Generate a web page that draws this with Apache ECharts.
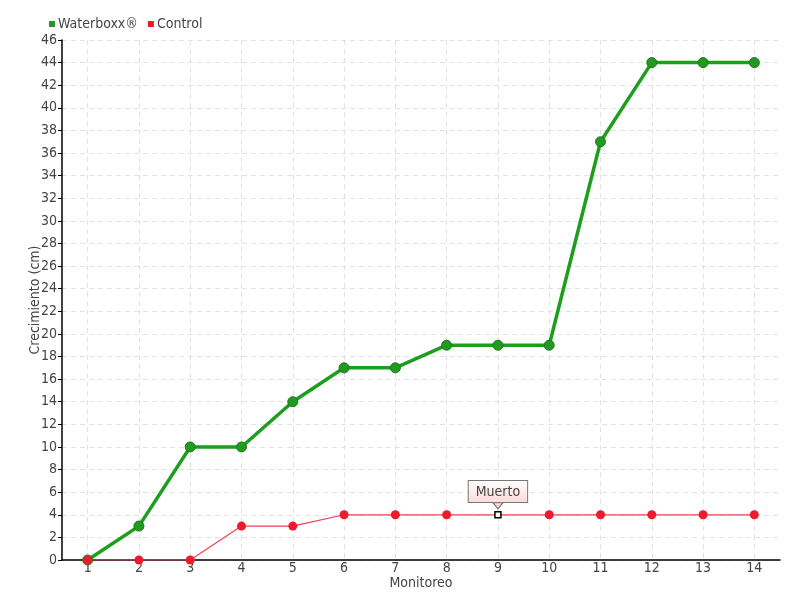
<!DOCTYPE html>
<html><head><meta charset="utf-8">
<script src="https://cdn.jsdelivr.net/npm/echarts@6/dist/echarts.min.js"></script>
<style>html,body{margin:0;padding:0;background:#fff}#c{width:800px;height:600px}</style>
</head><body><div id="c"></div>
<script>
const categories = ['1','2','3','4','5','6','7','8','9','10','11','12','13','14'];
const waterboxx = [0,3,10,10,14,17,17,19,19,19,37,44,44,44];
const control = [0,0,0,3,3,4,4,4,4,4,4,4,4,4];
const deadIndex = 8;
const deadLabel = 'Muerto';
const yTicks = {min:0, max:46, interval:2};

const FONT = "'DejaVu Sans Condensed', 'Roboto', 'Liberation Sans', sans-serif";
const halfCats = [];
for (let i = 0; i < categories.length * 2 + 1; i++) halfCats.push(String(i));

const chart = echarts.init(document.getElementById('c'));
const controlData = control.map((v, i) => {
  if (i === deadIndex) {
    return {
      value: v, symbol: 'rect', symbolSize: 6,
      itemStyle: {color: '#fff', borderColor: '#000', borderWidth: 1.5},
      label: {
        show: true, position: 'top', distance: 9, formatter: deadLabel,
        fontFamily: FONT, fontSize: 14, color: '#444',
        backgroundColor: {type:'linear', x:0, y:0, x2:0, y2:1, colorStops:[{offset:0,color:'#ffffff'},{offset:1,color:'#fcd8d8'}]},
        borderColor: '#777', borderWidth: 1, padding: [4, 7, 3, 7]
      }
    };
  }
  return v;
});

chart.setOption({
  animation: false,
  legend: {
    left: 44, top: 12, itemWidth: 6, itemHeight: 6, itemGap: 10,
    icon: 'rect',
    itemStyle: {borderWidth: 0},
    textStyle: {fontFamily: FONT, fontSize: 14, color: '#444', padding: [0,0,0,-2]},
    data: ['Waterboxx®', 'Control']
  },
  grid: {left: 62, right: 20, top: 40, bottom: 40},
  xAxis: [{
    type: 'category', data: categories, boundaryGap: true,
    name: 'Monitoreo', nameLocation: 'middle', nameGap: 16, nameMoveOverlap: false,
    nameTextStyle: {fontFamily: FONT, fontSize: 14, color: '#444'},
    axisLine: {lineStyle: {color: '#000', width: 1.5}},
    axisTick: {alignWithLabel: true, length: 5, lineStyle: {color: '#000'}},
    axisLabel: {fontFamily: FONT, fontSize: 14, color: '#444', margin: 1},
    splitLine: {show: false}
  }, {
    type: 'category', data: halfCats, boundaryGap: false, position: 'bottom',
    axisLine: {show: false}, axisTick: {show: false}, axisLabel: {show: false},
    splitLine: {show: true, interval: (i) => i % 2 === 1, lineStyle: {color: '#e2e2e2', type: [5, 4]}}
  }],
  yAxis: {
    type: 'value', min: yTicks.min, max: yTicks.max, interval: yTicks.interval,
    name: 'Crecimiento (cm)', nameLocation: 'middle', nameGap: 20, nameMoveOverlap: false,
    nameTextStyle: {fontFamily: FONT, fontSize: 14, color: '#444'},
    axisLine: {show: true, lineStyle: {color: '#000', width: 1.5}},
    axisTick: {show: true, length: 4, lineStyle: {color: '#000'}},
    axisLabel: {fontFamily: FONT, fontSize: 14, color: '#444', margin: 5},
    splitLine: {show: true, lineStyle: {color: '#e2e2e2', type: [5, 4]}}
  },
  series: [{
    name: 'Waterboxx®', type: 'line', data: waterboxx, xAxisIndex: 0,
    symbol: 'circle', symbolSize: 10, z: 3,
    color: '#22a022',
    lineStyle: {color: '#1e9e1e', width: 3.5},
    itemStyle: {color: '#229a22', borderColor: '#187818', borderWidth: 1}
  }, {
    name: 'Control', type: 'line', data: controlData, xAxisIndex: 0,
    symbol: 'circle', symbolSize: 9, z: 4,
    color: '#ee1a2e',
    lineStyle: {color: '#f0404e', width: 1.2},
    itemStyle: {color: '#ee1a2e', borderColor: '#ee1a2e', borderWidth: 0},
    markPoint: {
      silent: true, symbol: 'triangle', symbolSize: [10, 6], symbolRotate: 180,
      symbolOffset: [0, -9], label: {show: false},
      itemStyle: {color: '#fcd8d8', borderColor: '#777', borderWidth: 1},
      data: [{coord: [deadIndex, control[deadIndex]]}]
    }
  }]
});
</script></body></html>
